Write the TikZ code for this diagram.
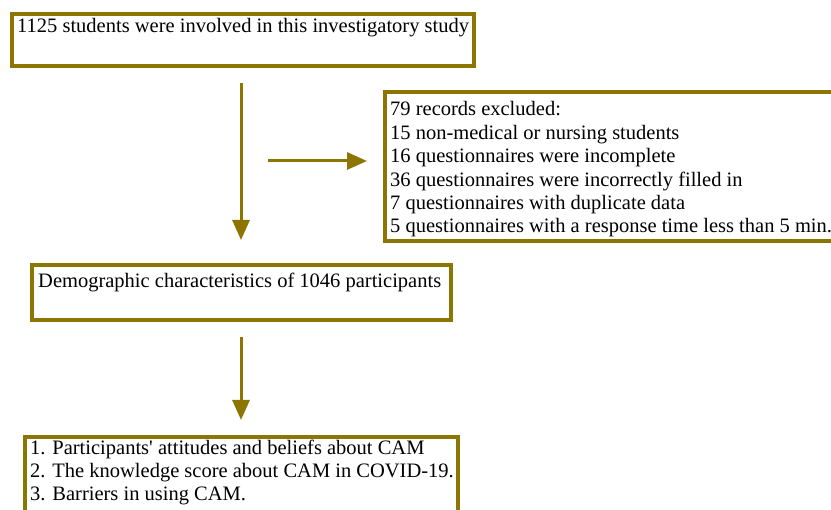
\documentclass[tikz,border=0pt]{standalone}
\usepackage{fontspec}
\setmainfont{Liberation Serif}
\usetikzlibrary{arrows.meta}
\definecolor{olivebox}{RGB}{140,117,0}
\tikzset{
  frame/.style={draw=olivebox, line width=3.8pt, fill=none},
  txt/.style={anchor=base west, inner sep=0pt, font=\fontsize{20.5}{23.4}\selectfont, text=black},
  flow/.style={draw=olivebox, line width=3pt, -{Triangle[width=17pt,length=20pt]}}
}
\begin{document}
\begin{tikzpicture}[x=1pt,y=-1pt]
\useasboundingbox (0,0) rectangle (831,510);
\clip (0,0) rectangle (831,510);
\fill[white] (0,0) rectangle (831,510);
% boxes
\draw[frame] (11.9,13.9) rectangle (474.1,66.1);
\node[txt] (t1) at (17,33) {1125 students were involved in this investigatory study};
\draw[frame] (384.9,91.9) rectangle (860,241.1);
\node[txt] (t2) at (390,116) {79 records excluded:};
\node[txt] (t2b) at (390,139.5) {15 non-medical or nursing students};
\node[txt] (t2c) at (390,163) {16 questionnaires were incomplete};
\node[txt] (t2d) at (390,186.3) {36 questionnaires were incorrectly filled in};
\node[txt] (t2e) at (390,209.6) {7 questionnaires with duplicate data};
\node[txt] (t2f) at (390,233) {5 questionnaires with a response time less than 5 min.};
\draw[frame] (31.9,264.9) rectangle (451.1,320.1);
\node[txt] (t3) at (38,288) {Demographic characteristics of 1046 participants};
\draw[frame] (24.9,436.9) rectangle (458.1,530);
\node[txt] (t4a) at (30,455) {1. Participants\textquotesingle{} attitudes and beliefs about CAM};
\node[txt] (t4b) at (30,478) {2. The knowledge score about CAM in COVID-19.};
\node[txt] (t4c) at (30,501) {3. Barriers in using CAM.};
% connectors
\coordinate (a1s) at (241,83);
\coordinate (a1e) at (241,240);
\coordinate (a2s) at (268,161);
\coordinate (a2e) at (367,161);
\coordinate (a3s) at (241,337);
\coordinate (a3e) at (241,420);
\draw[flow] (a1s) -- (a1e);
\draw[flow] (a2s) -- (a2e);
\draw[flow] (a3s) -- (a3e);
\end{tikzpicture}
\end{document}
